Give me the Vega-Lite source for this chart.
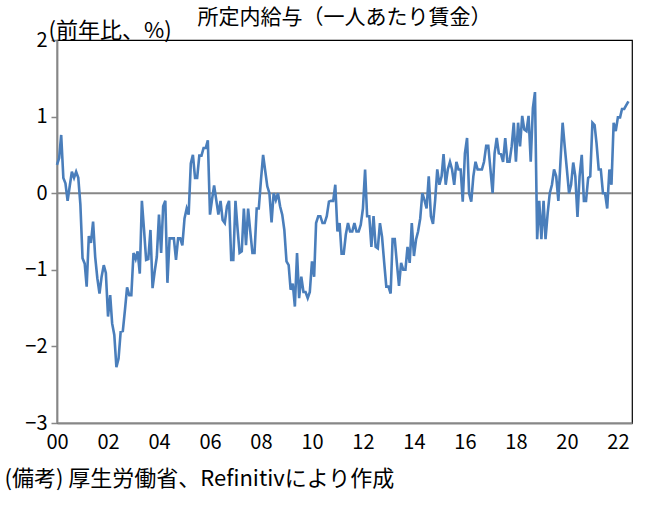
{
  "$schema": "https://vega.github.io/schema/vega-lite/v6.json",
  "width": 575,
  "height": 383,
  "autosize": "none",
  "padding": {"left": 57, "top": 40, "right": 27, "bottom": 84},
  "title": {
    "text": "所定内給与（一人あたり賃金）",
    "fontSize": 21,
    "fontWeight": "normal",
    "color": "#000",
    "anchor": "middle",
    "frame": "group",
    "offset": -9
  },
  "data": {
    "values": [
      {"d": "2000-01", "v": 0.37}, {"d": "2000-02", "v": 0.46}, {"d": "2000-03", "v": 0.76}, {"d": "2000-04", "v": 0.2},
      {"d": "2000-05", "v": 0.13}, {"d": "2000-06", "v": -0.1}, {"d": "2000-07", "v": 0.09}, {"d": "2000-08", "v": 0.28},
      {"d": "2000-09", "v": 0.2}, {"d": "2000-10", "v": 0.28}, {"d": "2000-11", "v": 0.2}, {"d": "2000-12", "v": -0.15},
      {"d": "2001-01", "v": -0.85}, {"d": "2001-02", "v": -0.92}, {"d": "2001-03", "v": -1.22}, {"d": "2001-04", "v": -0.56},
      {"d": "2001-05", "v": -0.65}, {"d": "2001-06", "v": -0.37}, {"d": "2001-07", "v": -0.83}, {"d": "2001-08", "v": -1.11},
      {"d": "2001-09", "v": -1.31}, {"d": "2001-10", "v": -1.09}, {"d": "2001-11", "v": -0.94}, {"d": "2001-12", "v": -1.04},
      {"d": "2002-01", "v": -1.61}, {"d": "2002-02", "v": -1.33}, {"d": "2002-03", "v": -1.7}, {"d": "2002-04", "v": -1.85},
      {"d": "2002-05", "v": -2.27}, {"d": "2002-06", "v": -2.16}, {"d": "2002-07", "v": -1.81}, {"d": "2002-08", "v": -1.8},
      {"d": "2002-09", "v": -1.52}, {"d": "2002-10", "v": -1.23}, {"d": "2002-11", "v": -1.33}, {"d": "2002-12", "v": -1.33},
      {"d": "2003-01", "v": -0.78}, {"d": "2003-02", "v": -0.86}, {"d": "2003-03", "v": -0.76}, {"d": "2003-04", "v": -1.05},
      {"d": "2003-05", "v": -0.1}, {"d": "2003-06", "v": -0.48}, {"d": "2003-07", "v": -0.87}, {"d": "2003-08", "v": -0.86},
      {"d": "2003-09", "v": -0.48}, {"d": "2003-10", "v": -1.24}, {"d": "2003-11", "v": -1.02}, {"d": "2003-12", "v": -0.83},
      {"d": "2004-01", "v": -0.28}, {"d": "2004-02", "v": -0.78}, {"d": "2004-03", "v": -0.17}, {"d": "2004-04", "v": -0.1},
      {"d": "2004-05", "v": -1.17}, {"d": "2004-06", "v": -0.59}, {"d": "2004-07", "v": -0.59}, {"d": "2004-08", "v": -0.59},
      {"d": "2004-09", "v": -0.87}, {"d": "2004-10", "v": -0.59}, {"d": "2004-11", "v": -0.59}, {"d": "2004-12", "v": -0.68},
      {"d": "2005-01", "v": -0.33}, {"d": "2005-02", "v": -0.2}, {"d": "2005-03", "v": -0.28}, {"d": "2005-04", "v": 0.39},
      {"d": "2005-05", "v": 0.5}, {"d": "2005-06", "v": 0.2}, {"d": "2005-07", "v": 0.2}, {"d": "2005-08", "v": 0.49},
      {"d": "2005-09", "v": 0.49}, {"d": "2005-10", "v": 0.59}, {"d": "2005-11", "v": 0.59}, {"d": "2005-12", "v": 0.69},
      {"d": "2006-01", "v": -0.28}, {"d": "2006-02", "v": -0.07}, {"d": "2006-03", "v": 0.1}, {"d": "2006-04", "v": -0.09},
      {"d": "2006-05", "v": -0.28}, {"d": "2006-06", "v": -0.1}, {"d": "2006-07", "v": -0.35}, {"d": "2006-08", "v": -0.39},
      {"d": "2006-09", "v": -0.17}, {"d": "2006-10", "v": -0.1}, {"d": "2006-11", "v": -0.87}, {"d": "2006-12", "v": -0.87},
      {"d": "2007-01", "v": -0.1}, {"d": "2007-02", "v": -0.48}, {"d": "2007-03", "v": -0.78}, {"d": "2007-04", "v": -0.76},
      {"d": "2007-05", "v": -0.2}, {"d": "2007-06", "v": -0.68}, {"d": "2007-07", "v": -0.2}, {"d": "2007-08", "v": -0.5},
      {"d": "2007-09", "v": -0.78}, {"d": "2007-10", "v": -0.78}, {"d": "2007-11", "v": -0.2}, {"d": "2007-12", "v": -0.2},
      {"d": "2008-01", "v": 0.17}, {"d": "2008-02", "v": 0.5}, {"d": "2008-03", "v": 0.3}, {"d": "2008-04", "v": 0.09},
      {"d": "2008-05", "v": 0.0}, {"d": "2008-06", "v": -0.38}, {"d": "2008-07", "v": 0.0}, {"d": "2008-08", "v": -0.09},
      {"d": "2008-09", "v": 0.0}, {"d": "2008-10", "v": -0.17}, {"d": "2008-11", "v": -0.28}, {"d": "2008-12", "v": -0.48},
      {"d": "2009-01", "v": -0.89}, {"d": "2009-02", "v": -0.94}, {"d": "2009-03", "v": -1.26}, {"d": "2009-04", "v": -1.18},
      {"d": "2009-05", "v": -1.48}, {"d": "2009-06", "v": -0.78}, {"d": "2009-07", "v": -1.37}, {"d": "2009-08", "v": -1.09},
      {"d": "2009-09", "v": -1.29}, {"d": "2009-10", "v": -1.29}, {"d": "2009-11", "v": -1.37}, {"d": "2009-12", "v": -1.29},
      {"d": "2010-01", "v": -0.89}, {"d": "2010-02", "v": -1.09}, {"d": "2010-03", "v": -0.39}, {"d": "2010-04", "v": -0.3},
      {"d": "2010-05", "v": -0.3}, {"d": "2010-06", "v": -0.39}, {"d": "2010-07", "v": -0.39}, {"d": "2010-08", "v": -0.3},
      {"d": "2010-09", "v": -0.11}, {"d": "2010-10", "v": -0.1}, {"d": "2010-11", "v": -0.1}, {"d": "2010-12", "v": 0.11},
      {"d": "2011-01", "v": -0.5}, {"d": "2011-02", "v": -0.39}, {"d": "2011-03", "v": -0.79}, {"d": "2011-04", "v": -0.79},
      {"d": "2011-05", "v": -0.54}, {"d": "2011-06", "v": -0.39}, {"d": "2011-07", "v": -0.5}, {"d": "2011-08", "v": -0.5},
      {"d": "2011-09", "v": -0.39}, {"d": "2011-10", "v": -0.5}, {"d": "2011-11", "v": -0.5}, {"d": "2011-12", "v": -0.41},
      {"d": "2012-01", "v": -0.2}, {"d": "2012-02", "v": 0.31}, {"d": "2012-03", "v": -0.3}, {"d": "2012-04", "v": -0.3},
      {"d": "2012-05", "v": -0.7}, {"d": "2012-06", "v": -0.3}, {"d": "2012-07", "v": -0.7}, {"d": "2012-08", "v": -0.72},
      {"d": "2012-09", "v": -0.39}, {"d": "2012-10", "v": -0.57}, {"d": "2012-11", "v": -0.91}, {"d": "2012-12", "v": -1.22},
      {"d": "2013-01", "v": -1.22}, {"d": "2013-02", "v": -1.31}, {"d": "2013-03", "v": -0.6}, {"d": "2013-04", "v": -0.6},
      {"d": "2013-05", "v": -0.91}, {"d": "2013-06", "v": -1.21}, {"d": "2013-07", "v": -0.91}, {"d": "2013-08", "v": -1.0},
      {"d": "2013-09", "v": -1.0}, {"d": "2013-10", "v": -0.7}, {"d": "2013-11", "v": -0.91}, {"d": "2013-12", "v": -0.39},
      {"d": "2014-01", "v": -0.82}, {"d": "2014-02", "v": -0.6}, {"d": "2014-03", "v": -0.5}, {"d": "2014-04", "v": -0.33},
      {"d": "2014-05", "v": 0.0}, {"d": "2014-06", "v": -0.09}, {"d": "2014-07", "v": -0.2}, {"d": "2014-08", "v": 0.22},
      {"d": "2014-09", "v": -0.3}, {"d": "2014-10", "v": -0.4}, {"d": "2014-11", "v": -0.09}, {"d": "2014-12", "v": 0.31},
      {"d": "2015-01", "v": 0.11}, {"d": "2015-02", "v": 0.22}, {"d": "2015-03", "v": 0.51}, {"d": "2015-04", "v": 0.11},
      {"d": "2015-05", "v": 0.31}, {"d": "2015-06", "v": 0.41}, {"d": "2015-07", "v": 0.31}, {"d": "2015-08", "v": 0.11},
      {"d": "2015-09", "v": 0.41}, {"d": "2015-10", "v": 0.31}, {"d": "2015-11", "v": 0.31}, {"d": "2015-12", "v": -0.11},
      {"d": "2016-01", "v": 0.52}, {"d": "2016-02", "v": 0.72}, {"d": "2016-03", "v": 0.0}, {"d": "2016-04", "v": -0.11},
      {"d": "2016-05", "v": 0.22}, {"d": "2016-06", "v": 0.41}, {"d": "2016-07", "v": 0.31}, {"d": "2016-08", "v": 0.31},
      {"d": "2016-09", "v": 0.31}, {"d": "2016-10", "v": 0.41}, {"d": "2016-11", "v": 0.62}, {"d": "2016-12", "v": 0.62},
      {"d": "2017-01", "v": 0.31}, {"d": "2017-02", "v": 0.0}, {"d": "2017-03", "v": 0.52}, {"d": "2017-04", "v": 0.72},
      {"d": "2017-05", "v": 0.52}, {"d": "2017-06", "v": 0.51}, {"d": "2017-07", "v": 0.41}, {"d": "2017-08", "v": 0.72},
      {"d": "2017-09", "v": 0.41}, {"d": "2017-10", "v": 0.41}, {"d": "2017-11", "v": 0.61}, {"d": "2017-12", "v": 0.92},
      {"d": "2018-01", "v": 0.41}, {"d": "2018-02", "v": 0.92}, {"d": "2018-03", "v": 0.61}, {"d": "2018-04", "v": 1.01},
      {"d": "2018-05", "v": 0.83}, {"d": "2018-06", "v": 0.81}, {"d": "2018-07", "v": 1.01}, {"d": "2018-08", "v": 0.41},
      {"d": "2018-09", "v": 1.11}, {"d": "2018-10", "v": 1.32}, {"d": "2018-11", "v": -0.6}, {"d": "2018-12", "v": -0.1},
      {"d": "2019-01", "v": -0.6}, {"d": "2019-02", "v": -0.1}, {"d": "2019-03", "v": -0.6}, {"d": "2019-04", "v": -0.26},
      {"d": "2019-05", "v": 0.0}, {"d": "2019-06", "v": 0.11}, {"d": "2019-07", "v": 0.31}, {"d": "2019-08", "v": 0.22},
      {"d": "2019-09", "v": -0.1}, {"d": "2019-10", "v": 0.41}, {"d": "2019-11", "v": 0.92}, {"d": "2019-12", "v": 0.61},
      {"d": "2020-01", "v": 0.31}, {"d": "2020-02", "v": 0.0}, {"d": "2020-03", "v": 0.11}, {"d": "2020-04", "v": 0.4},
      {"d": "2020-05", "v": 0.22}, {"d": "2020-06", "v": -0.31}, {"d": "2020-07", "v": 0.22}, {"d": "2020-08", "v": 0.5},
      {"d": "2020-09", "v": -0.1}, {"d": "2020-10", "v": -0.1}, {"d": "2020-11", "v": 0.2}, {"d": "2020-12", "v": 0.22},
      {"d": "2021-01", "v": 0.92}, {"d": "2021-02", "v": 0.89}, {"d": "2021-03", "v": 0.65}, {"d": "2021-04", "v": 0.31},
      {"d": "2021-05", "v": 0.31}, {"d": "2021-06", "v": 0.0}, {"d": "2021-07", "v": 0.0}, {"d": "2021-08", "v": -0.2},
      {"d": "2021-09", "v": 0.31}, {"d": "2021-10", "v": 0.11}, {"d": "2021-11", "v": 0.92}, {"d": "2021-12", "v": 0.81},
      {"d": "2022-01", "v": 0.99}, {"d": "2022-02", "v": 0.99}, {"d": "2022-03", "v": 1.1}, {"d": "2022-04", "v": 1.1},
      {"d": "2022-05", "v": 1.15}, {"d": "2022-06", "v": 1.2}
    ]
  },
  "layer": [
    {
      "data": {"values": [{"zero": 0}]},
      "mark": {"type": "rule", "color": "#878787", "strokeWidth": 2},
      "encoding": {
        "y": {"field": "zero", "type": "quantitative", "title": "(前年比、%)"}
      }
    },
    {
      "mark": {"type": "line", "color": "#4a7ebb", "strokeWidth": 2.6},
      "encoding": {
        "x": {
          "field": "d",
          "type": "temporal",
          "scale": {
            "type": "utc",
            "domain": [
              {"year": 2000, "month": 1, "date": 1, "utc": true},
              {"year": 2022, "month": 7, "date": 22, "utc": true}
            ]
          },
          "axis": {
            "format": "%y",
            "tickCount": {"interval": "year", "step": 2},
            "ticks": false,
            "grid": false,
            "labelFlush": false,
            "labelOverlap": false,
            "labelPadding": 9,
            "labelFontSize": 20,
            "labelColor": "#000",
            "domainColor": "#878787",
            "domainWidth": 1.8,
            "title": "(備考) 厚生労働省、Refinitivにより作成",
            "titleX": -53,
            "titleY": 55,
            "titleAlign": "left",
            "titleBaseline": "middle",
            "titleFontSize": 22,
            "titleFontWeight": "normal",
            "titleColor": "#000"
          }
        },
        "y": {
          "field": "v",
          "type": "quantitative",
          "title": "(前年比、%)",
          "scale": {"domain": [-3, 2], "nice": false, "zero": false},
          "axis": {
            "values": [-3, -2, -1, 0, 1, 2],
            "format": "d",
            "grid": false,
            "domainColor": "#878787",
            "domainWidth": 1.8,
            "tickColor": "#878787",
            "tickWidth": 1.5,
            "tickSize": 6,
            "labelPadding": 4,
            "labelFontSize": 20,
            "labelColor": "#000",
            "titleAngle": 0,
            "titleAlign": "left",
            "titleBaseline": "middle",
            "titleX": -9,
            "titleY": -10,
            "titleFontSize": 22,
            "titleFontWeight": "normal",
            "titleColor": "#000"
          }
        }
      }
    }
  ],
  "config": {
    "font": "Noto Sans CJK JP",
    "view": {"stroke": "#000", "strokeWidth": 1.2},
    "axis": {"labelFont": "Noto Sans CJK JP", "titleFont": "Noto Sans CJK JP"},
    "title": {"font": "Noto Sans CJK JP"}
  }
}
